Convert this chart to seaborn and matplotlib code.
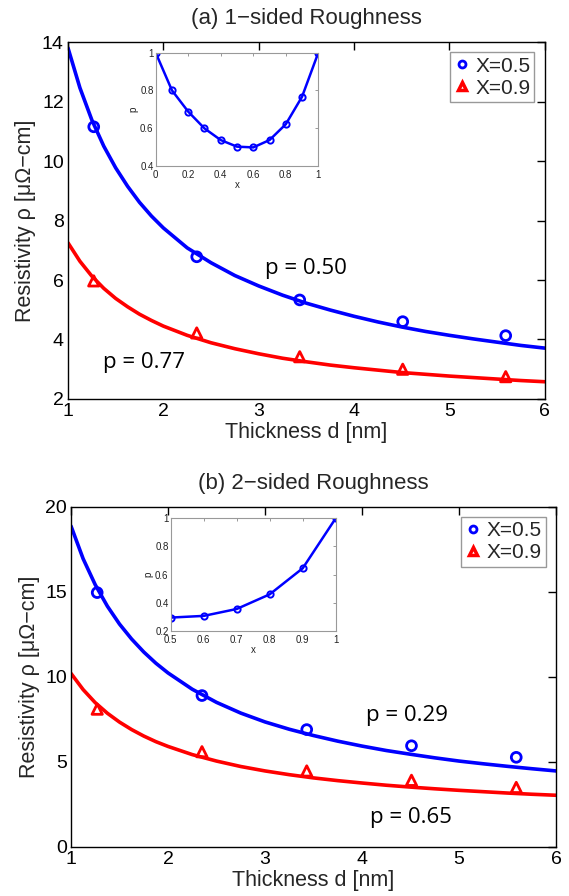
import numpy as np
import pandas as pd
import matplotlib
matplotlib.use("Agg")
import matplotlib.pyplot as plt
import seaborn as sns

# ---------------- data ----------------
d_points = [1.27, 2.35, 3.43, 4.51, 5.59]
top_x05_pts = [11.15, 6.78, 5.33, 4.60, 4.13]
top_x09_pts = [5.97, 4.22, 3.42, 3.00, 2.75]
bot_x05_pts = [14.95, 8.90, 6.90, 5.95, 5.27]
bot_x09_pts = [8.10, 5.60, 4.47, 3.92, 3.50]

d_curve = [1.0, 1.125, 1.25, 1.375, 1.5, 1.625, 1.75, 1.875, 2.0, 2.25, 2.5,
           2.75, 3.0, 3.25, 3.5, 3.75, 4.0, 4.25, 4.5, 4.75, 5.0, 5.25, 5.5,
           5.75, 6.0]
top_x05_curve = [13.80, 12.46, 11.38, 10.50, 9.77, 9.15, 8.61, 8.15, 7.75, 7.08,
                 6.58, 6.15, 5.80, 5.49, 5.22, 4.99, 4.78, 4.59, 4.42, 4.27,
                 4.14, 4.02, 3.91, 3.80, 3.71]
top_x09_curve = [7.25, 6.63, 6.13, 5.72, 5.38, 5.10, 4.85, 4.64, 4.45, 4.14,
                 3.89, 3.69, 3.52, 3.37, 3.25, 3.14, 3.05, 2.97, 2.89, 2.83,
                 2.77, 2.72, 2.67, 2.62, 2.58]
bot_x05_curve = [18.86, 16.94, 15.41, 14.15, 13.10, 12.22, 11.46, 10.80, 10.23,
                 9.27, 8.50, 7.87, 7.35, 6.92, 6.55, 6.22, 5.93, 5.67, 5.45,
                 5.24, 5.05, 4.89, 4.74, 4.60, 4.47]
bot_x09_curve = [10.20, 9.25, 8.48, 7.86, 7.34, 6.90, 6.52, 6.19, 5.91, 5.43,
                 5.05, 4.73, 4.47, 4.25, 4.06, 3.90, 3.76, 3.63, 3.52, 3.42,
                 3.33, 3.25, 3.17, 3.10, 3.04]

inset_a_x = [0.0, 0.1, 0.2, 0.3, 0.4, 0.5, 0.6, 0.7, 0.8, 0.9, 1.0]
inset_a_p = [1.0, 0.80, 0.687, 0.598, 0.536, 0.501, 0.497, 0.536, 0.62, 0.766, 1.0]
inset_b_x = [0.5, 0.6, 0.7, 0.8, 0.9, 1.0]
inset_b_p = [0.295, 0.307, 0.356, 0.46, 0.645, 1.0]

legend_labels = ["X=0.5", "X=0.9"]
titles = ["(a) 1\u2212sided Roughness", "(b) 2\u2212sided Roughness"]
xlabel = "Thickness d [nm]"
ylabel = "Resistivity \u03c1 [\u03bc\u03a9\u2212cm]"
annot_top = [("p = 0.50", 3.07, 6.4), ("p = 0.77", 1.37, 3.24)]
annot_bot = [("p = 0.29", 4.04, 7.75), ("p = 0.65", 4.08, 1.76)]

# ---------------- style ----------------
sns.set_theme(style="white")
plt.rcParams["font.family"] = ["Liberation Sans", "DejaVu Sans"]
plt.rcParams["axes.edgecolor"] = "black"
plt.rcParams["axes.linewidth"] = 1.0

BLUE = "#0000FF"
RED = "#FF0000"

fig = plt.figure(figsize=(5.69, 8.96), dpi=100)

ax1 = fig.add_axes([0.1195, 0.5547, 0.838, 0.3984])
ax2 = fig.add_axes([0.1248, 0.0547, 0.8524, 0.3798])


def draw_main(ax, c05, c09, p05, p09, ylim, yticks, title, annots):
    sns.lineplot(x=d_curve, y=c05, ax=ax, color=BLUE, lw=2.6, legend=False)
    sns.lineplot(x=d_curve, y=c09, ax=ax, color=RED, lw=2.6, legend=False)
    sns.scatterplot(x=d_points, y=p05, ax=ax, marker="o", s=50,
                    facecolor="none", edgecolor=BLUE, linewidth=2.0,
                    color=BLUE, zorder=5)
    sns.scatterplot(x=d_points, y=p09, ax=ax, marker="^", s=55,
                    facecolor="none", edgecolor=RED, linewidth=2.0,
                    color=RED, zorder=5)
    ax.set_xlim(1, 6)
    ax.set_ylim(*ylim)
    ax.set_xticks([1, 2, 3, 4, 5, 6])
    ax.set_yticks(yticks)
    ax.tick_params(direction="in", top=True, right=True, length=6, width=1,
                   labelsize=14, pad=3, colors="black")
    ax.set_xlabel(xlabel, fontsize=15.5, labelpad=1)
    ax.set_ylabel(ylabel, fontsize=15.5, labelpad=4)
    ax.set_title(title, fontsize=16, pad=13)
    for sp in ax.spines.values():
        sp.set_visible(True)
        sp.set_color("black")
    for txt, x, y in annots:
        ax.text(x, y, txt, fontsize=16, family=["Open Sans", "DejaVu Sans"],
                ha="left", va="center", color="black")
    h1 = plt.Line2D([], [], ls="", marker="o", mfc="none", mec=BLUE, mew=2, ms=5)
    h2 = plt.Line2D([], [], ls="", marker="^", mfc="none", mec=RED, mew=2.5, ms=6)
    leg = ax.legend([h1, h2], legend_labels, loc="upper right", fontsize=15,
                    frameon=True, fancybox=False, handlelength=0.7,
                    handletextpad=0.3, borderpad=0.2, labelspacing=0.15,
                    borderaxespad=0.5)
    leg.get_frame().set_edgecolor("#808080")
    leg.get_frame().set_linewidth(1.0)


draw_main(ax1, top_x05_curve, top_x09_curve, top_x05_pts, top_x09_pts,
          (2, 14), [2, 4, 6, 8, 10, 12, 14], titles[0], annot_top)
draw_main(ax2, bot_x05_curve, bot_x09_curve, bot_x05_pts, bot_x09_pts,
          (0, 20), [0, 5, 10, 15, 20], titles[1], annot_bot)


def draw_inset(rect, xs, ps, xlim, ylim, xticks, yticks):
    ia = fig.add_axes(rect)
    sns.lineplot(x=xs, y=ps, ax=ia, color=BLUE, lw=1.8, marker="o", ms=4.5,
                 mfc="none", mec=BLUE, mew=1.4, legend=False)
    ia.set_xlim(*xlim)
    ia.set_ylim(*ylim)
    ia.set_xticks(xticks)
    ia.set_yticks(yticks)
    ia.set_xticklabels([("%g" % v) for v in xticks])
    ia.set_yticklabels([("%g" % v) for v in yticks])
    ia.tick_params(direction="in", top=True, right=True, length=2.5, width=0.6,
                   labelsize=7, color="#888888", labelcolor="#222222")
    ia.tick_params(axis="x", pad=3)
    ia.tick_params(axis="y", pad=1.5)
    for sp in ia.spines.values():
        sp.set_visible(True)
        sp.set_color("#999999")
        sp.set_linewidth(0.8)
    ia.set_xlabel("x", fontsize=7, labelpad=0, color="#222222")
    ia.set_ylabel("p", fontsize=7, labelpad=1, color="#222222")
    ia.set_facecolor("white")
    return ia


draw_inset([0.2736, 0.8151, 0.2858, 0.1261], inset_a_x, inset_a_p,
           (0, 1), (0.4, 1.0), [0, 0.2, 0.4, 0.6, 0.8, 1.0],
           [0.4, 0.6, 0.8, 1.0])
draw_inset([0.300, 0.2958, 0.290, 0.1258], inset_b_x, inset_b_p,
           (0.5, 1), (0.2, 1.0), [0.5, 0.6, 0.7, 0.8, 0.9, 1.0],
           [0.2, 0.4, 0.6, 0.8, 1.0])

fig.savefig("out.png", dpi=100, facecolor="white")
